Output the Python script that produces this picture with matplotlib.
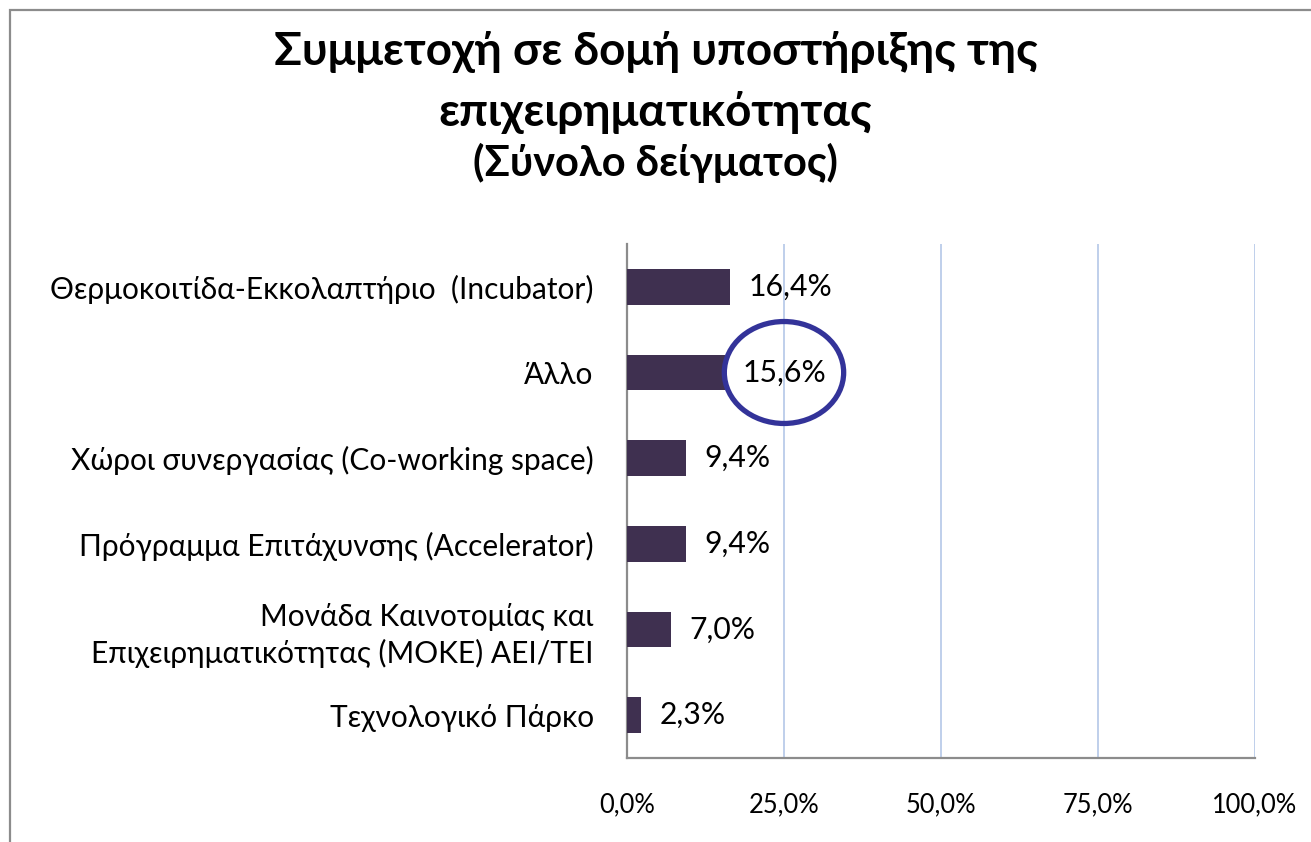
import matplotlib
matplotlib.use("Agg")
import matplotlib.pyplot as plt
from matplotlib.patches import Ellipse, Rectangle
from matplotlib.ticker import FuncFormatter

plt.rcParams['font.family'] = ['Lato', 'Open Sans', 'DejaVu Sans']

categories = [
    "Θερμοκοιτίδα-Εκκολαπτήριο  (Incubator)",
    "Άλλο",
    "Χώροι συνεργασίας (Co-working space)",
    "Πρόγραμμα Επιτάχυνσης (Accelerator)",
    "Μονάδα Καινοτομίας και\nΕπιχειρηματικότητας (ΜΟΚΕ) ΑΕΙ/ΤΕΙ",
    "Τεχνολογικό Πάρκο",
]
values = [16.4, 15.6, 9.4, 9.4, 7.0, 2.3]
xticks = [0, 25, 50, 75, 100]
title_line1 = "Συμμετοχή σε δομή υποστήριξης της"
title_line2 = "επιχειρηματικότητας"
subtitle = "(Σύνολο δείγματος)"
highlight_index = 1

W, H = 1311, 842
fig = plt.figure(figsize=(W / 100, H / 100), dpi=100)
fig.patch.set_facecolor("white")

# outer border
fig.patches.append(Rectangle((10 / W, -0.05), 1.2, 1 - 10 / H + 0.05,
                             transform=fig.transFigure, fill=False,
                             edgecolor="#8c8c8c", linewidth=1.6))

ax = fig.add_axes([627 / W, 1 - 758 / H, (1255 - 627) / W, (758 - 244) / H])

y = list(range(len(categories)))
ax.barh(y, values, height=0.42, color="#3F3050", zorder=3)
ax.set_ylim(len(categories) - 0.5, -0.5)
ax.set_xlim(0, 100)
ax.set_yticks(y)
ax.set_yticklabels(categories, fontsize=21.5, color="#000000", linespacing=1.3)
ax.set_xticks(xticks)
ax.xaxis.set_major_formatter(FuncFormatter(lambda v, p: f"{v:.1f}%".replace(".", ",")))
ax.tick_params(axis="x", labelsize=18.4, length=0, pad=25)
ax.tick_params(axis="y", length=0, pad=24)

ax.grid(axis="x", color="#B4C7E7", linewidth=1.2, zorder=0)
for s in ["top", "right"]:
    ax.spines[s].set_visible(False)
ax.spines["left"].set_color("#8c8c8c")
ax.spines["left"].set_linewidth(1.6)
ax.spines["bottom"].set_color("#8c8c8c")
ax.spines["bottom"].set_linewidth(1.6)

for i, v in enumerate(values):
    ax.annotate(f"{v:.1f}%".replace(".", ","), (v, i), xytext=(13, 0),
                textcoords="offset points", va="center", ha="left",
                fontsize=21.7, color="#000000", zorder=5)

ell = Ellipse((25, highlight_index), width=19.0, height=1.19, fill=False,
              edgecolor="#333399", linewidth=3.8, zorder=6)
ax.add_patch(ell)

fig.text(0.5, 1 - 52 / H, title_line1, ha="center", va="center",
         fontsize=33, fontweight="bold")
fig.text(0.5, 1 - 112 / H, title_line2, ha="center", va="center",
         fontsize=33, fontweight="bold")
fig.text(0.5, 1 - 163 / H, subtitle, ha="center", va="center",
         fontsize=30, fontweight="bold")

fig.savefig("out.png", dpi=100)
